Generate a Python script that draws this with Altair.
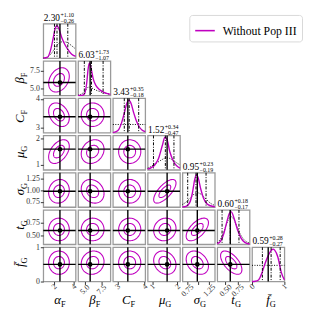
import altair as alt
import numpy as np
import pandas as pd

MAG = "#c000c0"
FONT = "Liberation Serif, Times New Roman, serif"
W, H = 33, 35
LEGEND_LABEL = "Without Pop III"

symbols = ["α", "β", "C", "μ", "σ", "t", "f\u0304"]
subscripts = ["F", "F", "F", "G", "G", "G", "G"]
domains = [[0.9, 4.2], [4.03, 8.85], [2.83, 4.02], [0.82, 2.10], [0.64, 1.38], [0.33, 1.0], [0.0, 1.0]]
tick_values = [[2, 4], [5.0, 7.5], [3, 4], [1, 2], [0.75, 1.0, 1.25], [0.5, 0.75], [0, 1]]
tick_formats = ["d", ".1f", "d", "d", ".2f", ".2f", "d"]
x_label_pads = [2, 5, 2, 2, 6, 6, 2]
truths = [2.6, 5.83, 3.38, 1.59, 0.98, 0.60, 0.50]
medians = [2.30, 6.03, 3.43, 1.52, 0.95, 0.60, 0.59]
err_plus = [1.10, 1.73, 0.35, 0.34, 0.23, 0.18, 0.28]
err_minus = [0.26, 1.07, 0.18, 0.47, 0.19, 0.17, 0.27]

# 1D marginals (posterior, magenta)
post_x = [
    [0.9, 1.3, 1.6, 1.9, 2.1, 2.3, 2.5, 2.8, 3.1, 3.4, 3.8, 4.2],
    [4.03, 4.6, 5.0, 5.3, 5.55, 5.75, 6.0, 6.3, 6.7, 7.2, 7.8, 8.4, 8.85],
    [2.83, 2.95, 3.05, 3.15, 3.25, 3.35, 3.42, 3.5, 3.6, 3.7, 3.8, 3.9, 4.02],
    [0.82, 0.95, 1.1, 1.25, 1.4, 1.5, 1.58, 1.7, 1.85, 2.0, 2.1],
    [0.64, 0.72, 0.8, 0.87, 0.92, 0.96, 1.0, 1.06, 1.12, 1.2, 1.28, 1.38],
    [0.33, 0.4, 0.47, 0.53, 0.58, 0.62, 0.68, 0.75, 0.82, 0.9, 1.0],
    [0.0, 0.1, 0.2, 0.3, 0.4, 0.5, 0.6, 0.65, 0.7, 0.8, 0.9, 1.0],
]
post_y = [
    [0, 0.02, 0.2, 0.6, 0.9, 1.0, 0.9, 0.62, 0.42, 0.27, 0.12, 0.05],
    [0, 0, 0.05, 0.35, 0.85, 1.0, 0.8, 0.5, 0.3, 0.18, 0.1, 0.05, 0.03],
    [0, 0.03, 0.1, 0.3, 0.6, 0.92, 1.0, 0.9, 0.6, 0.35, 0.18, 0.08, 0.03],
    [0.02, 0.06, 0.15, 0.35, 0.75, 1.0, 0.95, 0.55, 0.25, 0.1, 0.05],
    [0, 0.02, 0.12, 0.45, 0.85, 1.0, 0.9, 0.55, 0.28, 0.1, 0.04, 0.01],
    [0.02, 0.1, 0.35, 0.7, 0.95, 1.0, 0.8, 0.45, 0.2, 0.06, 0.01],
    [0, 0.01, 0.05, 0.25, 0.55, 0.8, 0.97, 1.0, 0.97, 0.75, 0.3, 0.05],
]
# 1D prior (black dotted)
prior_x = [
    [0.9, 1.3, 1.6, 1.9, 2.1, 2.3, 2.5, 2.8, 3.1, 3.4, 3.8, 4.2],
    [4.03, 4.6, 5.0, 5.3, 5.55, 5.75, 6.0, 6.3, 6.7, 7.2, 7.8, 8.4, 8.85],
    [2.83, 4.02],
    [0.82, 0.95, 1.1, 1.25, 1.4, 1.5, 1.58, 1.7, 1.85, 2.0, 2.1],
    [0.64, 0.72, 0.8, 0.87, 0.92, 0.96, 1.0, 1.06, 1.12, 1.2, 1.28, 1.38],
    [0.33, 0.4, 0.47, 0.53, 0.58, 0.62, 0.68, 0.75, 0.82, 0.9, 1.0],
    [0.0, 1.0],
]
prior_y = [
    [0, 0.03, 0.1, 0.22, 0.32, 0.4, 0.46, 0.5, 0.5, 0.47, 0.38, 0.28],
    [0, 0.05, 0.12, 0.2, 0.25, 0.25, 0.24, 0.2, 0.16, 0.12, 0.08, 0.05, 0.03],
    [0.25, 0.25],
    [0.05, 0.1, 0.18, 0.25, 0.32, 0.36, 0.37, 0.35, 0.28, 0.2, 0.15],
    [0.08, 0.15, 0.25, 0.35, 0.42, 0.45, 0.44, 0.4, 0.33, 0.22, 0.12, 0.05],
    [0.05, 0.17, 0.4, 0.65, 0.82, 0.85, 0.75, 0.5, 0.28, 0.12, 0.04],
    [0.5, 0.5],
]

# 2D contour description: centre, spread, correlation per pair
cont_center = [2.5, 6.2, 3.45, 1.5, 0.98, 0.62, 0.55]
cont_sigma = [0.62, 1.0, 0.24, 0.26, 0.15, 0.13, 0.2]
pair_rho = {
    (1, 0): 0.3,
    (2, 0): -0.3, (2, 1): 0.0,
    (3, 0): 0.45, (3, 1): 0.2, (3, 2): 0.0,
    (4, 0): 0.1, (4, 1): -0.2, (4, 2): 0.0, (4, 3): 0.7,
    (5, 0): 0.0, (5, 1): 0.0, (5, 2): 0.0, (5, 3): 0.1, (5, 4): 0.6,
    (6, 0): 0.0, (6, 1): 0.1, (6, 2): 0.0, (6, 3): -0.2, (6, 4): -0.3, (6, 5): -0.6,
}
contour_levels = [0.9, 1.7]

one = pd.DataFrame({"k": [0]})


def txt(s, x, y, size, align="left", angle=0, style="normal"):
    return alt.Chart(one).mark_text(
        text=s, font=FONT, fontSize=size, align=align, baseline="alphabetic",
        angle=angle, fontStyle=style, color="black"
    ).encode(x=alt.value(x), y=alt.value(y))


def x_enc(j, show):
    if show:
        ax = alt.Axis(values=tick_values[j], format=tick_formats[j], labelAngle=-45,
                      labelAlign="center", labelBaseline="middle",
                      labelPadding=x_label_pads[j])
    else:
        ax = None
    return alt.X("x:Q", scale=alt.Scale(domain=domains[j], nice=False, zero=False),
                 axis=ax, title=None)


def y_enc(i, show):
    if show:
        ax = alt.Axis(values=tick_values[i], format=tick_formats[i], labelPadding=1)
    else:
        ax = None
    return alt.Y("y:Q", scale=alt.Scale(domain=domains[i], nice=False, zero=False),
                 axis=ax, title=None)


def axis_titles(i, j):
    layers = []
    if i == 6:
        layers.append(txt(symbols[j], W / 2 + 1.5, H + 23, 13, "right", style="italic"))
        layers.append(txt(subscripts[j], W / 2 + 1.5, H + 26, 8.5, "left"))
    if j == 0 and i > 0:
        layers.append(txt(symbols[i], -19.5, H / 2 - 1, 13, "right", angle=270, style="italic"))
        layers.append(txt(subscripts[i], -16.5, H / 2 - 1, 8.5, "left", angle=270))
    return layers


def diag_panel(k):
    xe = x_enc(k, k == 6)
    ys = alt.Scale(domain=[0, 1.06])
    dpost = pd.DataFrame({"x": post_x[k], "p": post_y[k], "lab": LEGEND_LABEL})
    dprior = pd.DataFrame({"x": prior_x[k], "p": prior_y[k]})
    penc = dict(x=xe, y=alt.Y("p:Q", scale=ys, axis=None, title=None))
    if k == 0:
        penc["color"] = alt.Color(
            "lab:N",
            scale=alt.Scale(domain=[LEGEND_LABEL], range=[MAG]),
            legend=alt.Legend(orient="none", legendX=149, legendY=-9, title=None,
                              symbolType="stroke", symbolStrokeWidth=1.6, symbolSize=400,
                              labelFont=FONT, labelFontSize=12, labelColor="black",
                              labelOffset=7, strokeColor="#d8d8d8", cornerRadius=3,
                              padding=5, fillColor="white"),
        )
    prior = alt.Chart(dprior).mark_line(color="black", strokeWidth=1, strokeDash=[1, 1.5],
                                        interpolate="monotone").encode(
        x=xe, y=alt.Y("p:Q", scale=ys, axis=None, title=None))
    post = alt.Chart(dpost).mark_line(color=MAG, strokeWidth=1.4,
                                      interpolate="monotone").encode(**penc)
    qdf = pd.DataFrame({"x": [medians[k] - err_minus[k], medians[k], medians[k] + err_plus[k]]})
    quant = alt.Chart(qdf).mark_rule(color="black", strokeWidth=1,
                                     strokeDash=[3, 1.5, 1, 1.5]).encode(x=xe)
    truth = alt.Chart(pd.DataFrame({"x": [truths[k]]})).mark_rule(
        color="black", strokeWidth=1.4).encode(x=xe)
    titles = [
        txt(f"{medians[k]:.2f}", 17, -3, 9.5, "right"),
        txt(f"+{err_plus[k]:.2f}", 17.5, -7, 6, "left"),
        txt(f"\u2212{err_minus[k]:.2f}", 17.5, -1, 6, "left"),
    ]
    return alt.layer(prior, post, quant, truth, *titles, *axis_titles(k, k)).properties(
        width=W, height=H)


def pair_panel(i, j):
    rho = pair_rho[(i, j)]
    t = np.linspace(0, 2 * np.pi, 73)
    frames = []
    for n, lev in enumerate(contour_levels):
        xs = cont_center[j] + lev * cont_sigma[j] * np.cos(t)
        ys = cont_center[i] + lev * cont_sigma[i] * (rho * np.cos(t) + np.sqrt(1 - rho ** 2) * np.sin(t))
        frames.append(pd.DataFrame({"x": xs, "y": ys, "lev": n, "o": np.arange(len(t))}))
    df = pd.concat(frames)
    xe = x_enc(j, i == 6)
    ye = y_enc(i, j == 0)
    ell = alt.Chart(df).mark_line(color=MAG, strokeWidth=1.1, clip=True).encode(
        x=xe, y=ye, detail="lev:N", order="o:Q")
    vr = alt.Chart(pd.DataFrame({"x": [truths[j]]})).mark_rule(
        color="black", strokeWidth=1.4).encode(x=xe)
    hr = alt.Chart(pd.DataFrame({"y": [truths[i]]})).mark_rule(
        color="black", strokeWidth=1.4).encode(y=ye)
    dot = alt.Chart(pd.DataFrame({"x": [truths[j]], "y": [truths[i]]})).mark_circle(
        color="black", size=22, opacity=1).encode(x=xe, y=ye)
    return alt.layer(ell, vr, hr, dot, *axis_titles(i, j)).properties(width=W, height=H)


def empty_panel():
    return alt.Chart(one).mark_point(opacity=0).encode(
        x=alt.value(0), y=alt.value(0)).properties(
        width=W, height=H, view=alt.ViewBackground(stroke="transparent"))


cells = []
for i in range(7):
    for j in range(7):
        if j < i:
            cells.append(pair_panel(i, j))
        elif j == i:
            cells.append(diag_panel(i))
        else:
            cells.append(empty_panel())

chart = alt.concat(*cells, columns=7, spacing={"row": 3, "column": 2.5}, bounds="flush").resolve_scale(
    x="independent", y="independent"
).properties(
    padding={"left": 5, "top": 0, "right": 0, "bottom": 0}
).configure_view(
    stroke="#9a9a9a", strokeWidth=1.3
).configure_axis(
    labelFont=FONT, labelFontSize=8, labelColor="#333333", tickColor="#333333",
    domain=False, grid=False, tickSize=3
)

chart.save("out.html", embed_options={"renderer": "svg", "actions": False})
